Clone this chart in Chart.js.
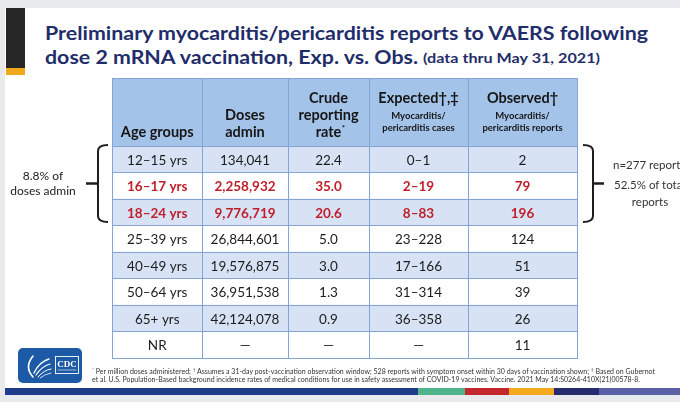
<!DOCTYPE html>
<html>
<head>
<meta charset="utf-8">
<script src="https://cdn.jsdelivr.net/npm/chart.js@4.4.0/dist/chart.umd.min.js"></script>
<style>
body { margin:0; width:680px; height:402px; overflow:hidden; background:#e8eaee; position:relative; font-family:Lato, sans-serif; }
.abs { position:absolute; white-space:nowrap; }
#slide { left:5px; top:8px; width:675px; height:387px; background:#fff; }
.title { color:#1f2e6a; font-weight:700; transform-origin:0 0; }
.note { color:#222; font-size:12px; line-height:15px; text-align:center; }
.rnote { color:#333; font-size:11.5px; line-height:14px; }
.foot { color:#333; font-size:6.6px; line-height:8px; transform-origin:0 0; }
.foot sup { font-size:4.5px; }
canvas { position:absolute; }
</style>
</head>
<body>
<div class="abs" id="slide"></div>
<div class="abs" style="left:6px;top:8px;width:19px;height:60px;background:#262626"></div>
<div class="abs" style="left:6px;top:68px;width:19px;height:7px;background:#f0a81c"></div>

<div class="abs title" data-fit="603" style="left:45px;top:21px;font-size:19.5px;line-height:24px">Preliminary myocarditis/pericarditis reports to VAERS following</div>
<div class="abs title" data-fit="373" style="left:45px;top:45px;font-size:19.5px;line-height:24px">dose 2 mRNA vaccination, Exp. vs. Obs.</div>
<div class="abs title" data-fit="177" style="left:423px;top:49px;font-size:13.5px;line-height:18px">(data thru May 31, 2021)</div>

<canvas id="head" width="467" height="70" style="left:111px;top:77px"></canvas>
<canvas id="body" width="467" height="214" style="left:111px;top:145px"></canvas>

<svg class="abs" style="left:0;top:0" width="680" height="402">
  <g fill="none" stroke="#1e1e1e" stroke-width="2">
    <path d="M108,145 Q98,145 98,151 L98,216 Q98,222 108,222"/>
    <path d="M86,183.5 L98,183.5" stroke-width="2.5"/>
    <path d="M583,145 Q593,145 593,151 L593,216 Q593,222 583,222"/>
    <path d="M593,183.5 L604,183.5" stroke-width="2.5"/>
  </g>
</svg>

<div class="abs note" style="left:0;width:86px;top:168px">8.8% of<br>doses admin</div>
<div class="abs rnote" style="left:613px;top:158px">n=277 reports</div>
<div class="abs rnote" style="left:614px;top:178px">52.5% of total</div>
<div class="abs rnote" style="left:630px;width:40px;top:195px;text-align:center">reports</div>

<div class="abs" style="left:18px;top:348px;width:64px;height:35px;background:#1d5aa6;border-radius:5px">
  <svg width="64" height="35">
    <g fill="none" stroke="#fff" stroke-linecap="round">
      <path d="M15,29 Q6,19 15,8" stroke-width="1.6"/>
      <path d="M16,25 Q21,14 31,11" stroke-width="1.4"/>
      <path d="M18,27 Q24,18 32,16" stroke-width="1.2"/>
      <path d="M20,29 Q26,22 33,21" stroke-width="1"/>
      <path d="M22,30 Q27,26 33,25" stroke-width="0.8"/>
      <rect x="37.5" y="8.5" width="23" height="17" stroke-width="0.9"/>
      <path d="M40,22 L58,22" stroke-width="0.6"/>
    </g>
    <text x="49" y="18.5" fill="#fff" font-family="Liberation Serif, serif" font-weight="700" font-size="9" text-anchor="middle">CDC</text>
  </svg>
</div>

<div class="abs foot" data-fit="563" style="left:92px;top:366px"><sup>*</sup> Per million doses administered; <sup>†</sup> Assumes a 31-day post-vaccination observation window; 528 reports with symptom onset within 30 days of vaccination shown; <sup>‡</sup> Based on Gubernot</div>
<div class="abs foot" data-fit="548" style="left:92px;top:375px">et al. U.S. Population-Based background incidence rates of medical conditions for use in safety assessment of COVID-19 vaccines. Vaccine. 2021 May 14:S0264-410X(21)00578-8.</div>

<div class="abs" style="left:5px;top:388px;width:413px;height:7px;background:#1f3c8a"></div>
<div class="abs" style="left:418px;top:388px;width:47px;height:7px;background:#4fb48a"></div>
<div class="abs" style="left:465px;top:388px;width:44px;height:7px;background:#c1272d"></div>
<div class="abs" style="left:509px;top:388px;width:45px;height:7px;background:#f4aa1f"></div>
<div class="abs" style="left:554px;top:388px;width:45px;height:7px;background:#272a6c"></div>
<div class="abs" style="left:599px;top:388px;width:81px;height:7px;background:#5b5fa8"></div>

<script>
// table contents
const ageGroups = ['12–15 yrs', '16–17 yrs', '18–24 yrs', '25–39 yrs', '40–49 yrs', '50–64 yrs', '65+ yrs', 'NR'];
const dosesAdmin = [134041, 2258932, 9776719, 26844601, 19576875, 36951538, 42124078, null];
const crudeRate = [22.4, 35.0, 20.6, 5.0, 3.0, 1.3, 0.9, null];
const expectedLow = [0, 2, 8, 23, 17, 31, 36, null];
const expectedHigh = [1, 19, 83, 228, 166, 314, 358, null];
const observed = [2, 79, 196, 124, 51, 39, 26, 11];
const highlighted = ['16–17 yrs', '18–24 yrs'];

const headMain = [['Age groups'], ['Doses', 'admin'], ['Crude', 'reporting', 'rate*'], ['Expected†,‡'], ['Observed†']];
const headSub = [[], [], [], ['Myocarditis/', 'pericarditis cases'], ['Myocarditis/', 'pericarditis reports']];

// layout of the grid
const colWidths = [90, 86, 81, 99, 109];
const colEdges = [0];
colWidths.forEach(w => colEdges.push(colEdges[colEdges.length - 1] + w));

const lineColor = '#86a3d6';
const headFill = '#a3c3e9';
const stripeFill = '#d7e2f4';

function cellText(col, row) {
    if (col === 0) return ageGroups[row];
    if (col === 1) return dosesAdmin[row] == null ? '—' : dosesAdmin[row].toLocaleString('en-US');
    if (col === 2) return crudeRate[row] == null ? '—' : crudeRate[row].toFixed(1);
    if (col === 3) return expectedLow[row] == null ? '—' : expectedLow[row] + '–' + expectedHigh[row];
    return String(observed[row]);
}

const cellLabels = {
    id: 'cellLabels',
    afterDatasetsDraw(chart, args, opts) {
        const ctx = chart.ctx;
        ctx.save();
        chart.data.datasets.forEach((ds, i) => {
            chart.getDatasetMeta(i).data.forEach((bar, j) => {
                opts.draw(ctx, i, j, (bar.x + bar.base) / 2, bar.y, bar.height);
            });
        });
        ctx.restore();
    }
};

function drawBodyCell(ctx, col, row, cx, cy) {
    const hl = highlighted.includes(ageGroups[row]);
    ctx.font = (hl ? 'bold ' : '') + '13.5px Lato';
    ctx.fillStyle = hl ? '#bf1f2b' : '#1c1c1c';
    ctx.textAlign = 'center';
    ctx.textBaseline = 'middle';
    ctx.fillText(cellText(col, row), cx, cy + 1);
}

function drawHeadCell(ctx, col, row, cx, cy, h) {
    const bottom = cy + h / 2;
    ctx.fillStyle = '#161616';
    ctx.textAlign = 'center';
    ctx.textBaseline = 'alphabetic';
    let y = bottom - 9;
    const sub = headSub[col];
    if (sub.length) {
        y = bottom - 15;
        ctx.font = 'bold 9.5px Lato';
        for (let k = sub.length - 1; k >= 0; k--) {
            ctx.fillText(sub[k], cx, y);
            y -= 12;
        }
        y -= 4;
    }
    const main = headMain[col];
    ctx.font = 'bold 14.5px Lato';
    for (let k = main.length - 1; k >= 0; k--) {
        let t = main[k];
        if (t.endsWith('*')) {
            t = t.slice(0, -1);
            const w = ctx.measureText(t).width;
            ctx.fillText(t, cx, y);
            ctx.font = 'bold 8px Lato';
            ctx.textAlign = 'left';
            ctx.fillText('*', cx + w / 2 + 0.5, y - 6);
            ctx.textAlign = 'center';
            ctx.font = 'bold 14.5px Lato';
        } else {
            ctx.fillText(t, cx, y);
        }
        y -= 17;
    }
}

function makeTable(canvasId, labels, fills, draw) {
    return new Chart(document.getElementById(canvasId), {
        type: 'bar',
        data: {
            labels: labels,
            datasets: colWidths.map(w => ({
                data: labels.map(() => w),
                backgroundColor: c => fills[c.dataIndex],
                borderWidth: 0,
                barPercentage: 1,
                categoryPercentage: 1
            }))
        },
        options: {
            indexAxis: 'y',
            responsive: false,
            animation: false,
            events: [],
            layout: { padding: 1 },
            scales: {
                x: {
                    stacked: true,
                    min: 0,
                    max: colEdges[colEdges.length - 1],
                    afterBuildTicks: axis => { axis.ticks = colEdges.map(v => ({ value: v })); },
                    ticks: { display: false },
                    grid: { color: lineColor, drawTicks: false, z: 1 },
                    border: { color: lineColor, z: 1 }
                },
                y: {
                    stacked: true,
                    ticks: { display: false },
                    grid: { color: lineColor, drawTicks: false, offset: true, z: 1 },
                    border: { color: lineColor, z: 1 }
                }
            },
            plugins: {
                legend: { display: false },
                tooltip: { enabled: false },
                cellLabels: { draw: draw }
            }
        },
        plugins: [cellLabels]
    });
}

makeTable('head', [''], [headFill], drawHeadCell);
makeTable('body', ageGroups, ageGroups.map((a, i) => i % 2 === 0 ? stripeFill : '#ffffff'), drawBodyCell);

document.querySelectorAll('[data-fit]').forEach(el => {
    const w = el.getBoundingClientRect().width;
    el.style.transform = 'scaleX(' + (el.dataset.fit / w) + ')';
});
</script>
</body>
</html>
